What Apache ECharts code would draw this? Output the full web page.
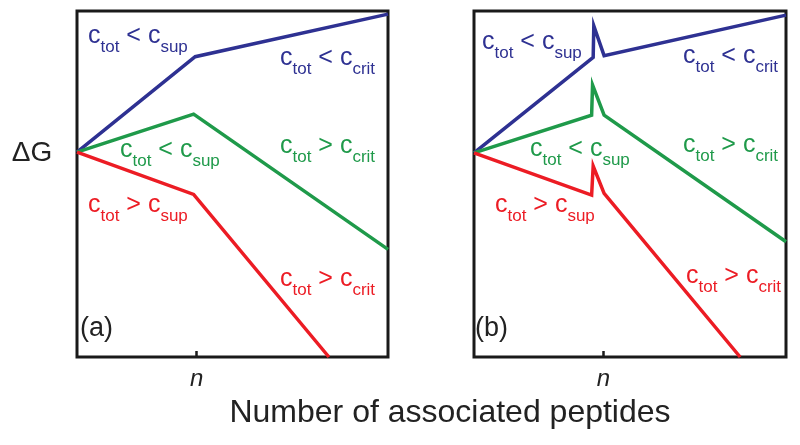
<!DOCTYPE html>
<html>
<head>
<meta charset="utf-8">
<script src="https://cdn.jsdelivr.net/npm/echarts@6/dist/echarts.min.js"></script>
<style>
html,body{margin:0;padding:0;background:#fff;}
#chart{width:800px;height:445px;}
</style>
</head>
<body>
<div id="chart"></div>
<script>
// ---- data (x: 0..100 across panel, y: 0..100 bottom to top) ----
const xRange = [0, 100];
const yRange = [0, 100];
const tickA = [38.5];
const tickB = [41.5];
const tickLabel = 'n';

const aBlue  = [[0, 59.2], [38, 86.8], [100, 99.1]];
const aGreen = [[0, 59.2], [37.5, 70.2], [100, 31.1]];
const aRed   = [[0, 59.2], [37.5, 47.0], [81, 0]];

const bBlue  = [[0, 59.0], [38.2, 86.6], [38.4, 95.7], [41.7, 87.1], [100, 98.8]];
const bGreen = [[0, 59.0], [37.7, 69.9], [38.0, 78.6], [41.7, 69.9], [100, 33.3]];
const bRed   = [[0, 59.0], [37.7, 46.8], [38.2, 55.2], [41.7, 47.3], [85.3, 0]];

const panelLabels = ['(a)', '(b)'];
const yTitle = 'ΔG';
const xTitle = 'Number of associated peptides';

const BLUE = '#2e3192', GREEN = '#1f9a4a', RED = '#ec1c24', INK = '#1a1a1a';
const FONT = '"Liberation Sans", Arial, Helvetica, sans-serif';

function rich(color) {
  return {
    m: {fontSize: 25, lineHeight: 28, verticalAlign: 'top', fill: color, fontFamily: FONT},
    s: {fontSize: 17, lineHeight: 18, padding: [15, 0, 0, 0], verticalAlign: 'top', fill: color, fontFamily: FONT}
  };
}
function cLabel(x, cy, color, op, sub) {
  return {
    type: 'text', left: x, top: cy - 14, z: 10,
    style: {
      text: '{m|c}{s|tot}{m| ' + op + ' c}{s|' + sub + '}',
      rich: rich(color), fill: color, font: '25px ' + FONT
    }
  };
}

function xAxisFor(grid, ticks) {
  return {
    gridIndex: grid, type: 'value', min: xRange[0], max: xRange[1],
    axisLine: {show: false},
    splitLine: {show: false},
    axisTick: {show: true, inside: true, length: 6, customValues: ticks,
               lineStyle: {color: INK, width: 2.5}},
    axisLabel: {show: true, customValues: ticks, formatter: () => tickLabel,
                fontStyle: 'italic', fontSize: 24, color: '#222', margin: 10,
                fontFamily: FONT}
  };
}
function yAxisFor(grid) {
  return {
    gridIndex: grid, type: 'value', min: yRange[0], max: yRange[1],
    axisLine: {show: false}, axisTick: {show: false},
    axisLabel: {show: false}, splitLine: {show: false}
  };
}
function line(data, color, idx) {
  return {
    type: 'line', xAxisIndex: idx, yAxisIndex: idx, data: data,
    showSymbol: false, symbol: 'none', animation: false,
    lineStyle: {color: color, width: 3.5, join: 'miter'}
  };
}

const chart = echarts.init(document.getElementById('chart'), null, {renderer: 'canvas'});
chart.setOption({
  animation: false,
  backgroundColor: '#fff',
  grid: [
    {left: 77, top: 11, width: 311, height: 346, show: true, borderColor: INK, borderWidth: 3, backgroundColor: 'transparent'},
    {left: 474, top: 11, width: 312, height: 346, show: true, borderColor: INK, borderWidth: 3, backgroundColor: 'transparent'}
  ],
  xAxis: [xAxisFor(0, tickA), xAxisFor(1, tickB)],
  yAxis: [yAxisFor(0), yAxisFor(1)],
  series: [
    line(aBlue, BLUE, 0), line(aGreen, GREEN, 0), line(aRed, RED, 0),
    line(bBlue, BLUE, 1), line(bGreen, GREEN, 1), line(bRed, RED, 1)
  ],
  graphic: [
    cLabel(88, 38, BLUE, '<', 'sup'),
    cLabel(280, 60, BLUE, '<', 'crit'),
    cLabel(120, 152, GREEN, '<', 'sup'),
    cLabel(280, 148, GREEN, '>', 'crit'),
    cLabel(88, 207, RED, '>', 'sup'),
    cLabel(280, 281, RED, '>', 'crit'),
    cLabel(482, 44, BLUE, '<', 'sup'),
    cLabel(683, 58, BLUE, '<', 'crit'),
    cLabel(530, 151, GREEN, '<', 'sup'),
    cLabel(683, 147, GREEN, '>', 'crit'),
    cLabel(495, 207, RED, '>', 'sup'),
    cLabel(686, 278, RED, '>', 'crit'),
    {type: 'text', left: 80, top: 315, style: {text: panelLabels[0], font: '27px ' + FONT, fill: '#222'}},
    {type: 'text', left: 475, top: 315, style: {text: panelLabels[1], font: '27px ' + FONT, fill: '#222'}},
    {type: 'text', x: 32, y: 153, style: {text: yTitle, font: '28px ' + FONT, fill: '#222', align: 'center', verticalAlign: 'middle'}},
    {type: 'text', x: 450, y: 413, style: {text: xTitle, font: '32px ' + FONT, fill: '#222', align: 'center', verticalAlign: 'middle'}}
  ]
});
</script>
</body>
</html>
